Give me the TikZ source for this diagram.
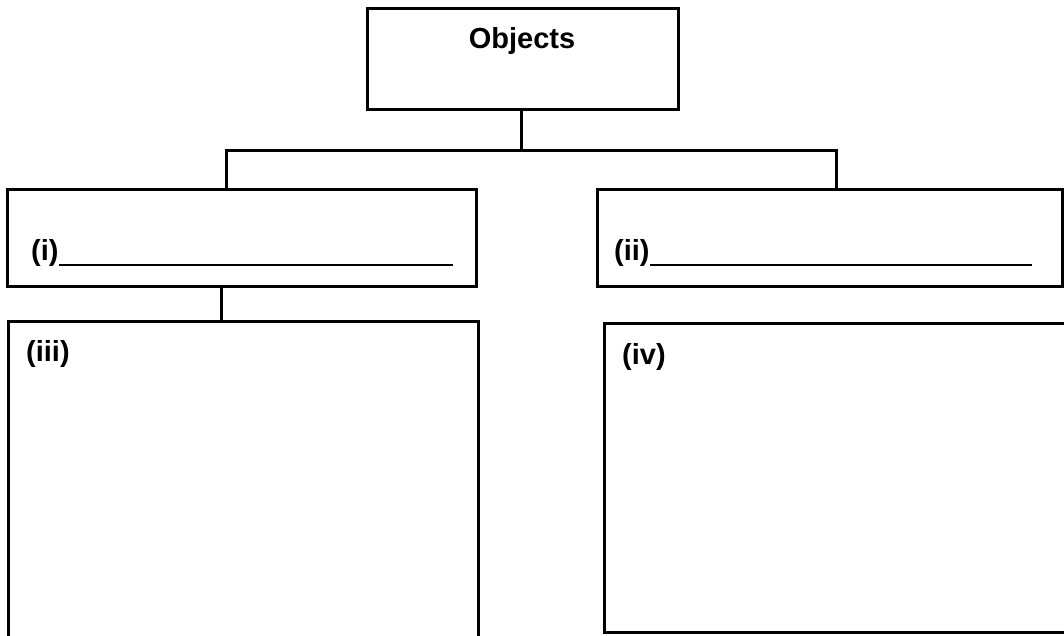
\documentclass[tikz,border=0pt]{standalone}
\usepackage{fontspec}
\setmainfont{Liberation Sans}
\begin{document}
\begin{tikzpicture}[x=1pt,y=-1pt,
  box/.style={draw=black, line width=3pt, rectangle, inner sep=0pt},
  lbl/.style={inner sep=0pt, font=\fontsize{29}{34}\selectfont\bfseries},
  conn/.style={draw=black, line width=3pt},
  blank/.style={draw=black, line width=2.6pt}]
\useasboundingbox[fill=white] (0,0) rectangle (1064,635);
% boxes
\node[box, minimum width=311pt, minimum height=101pt] (obj) at (522.5,58.5) {};
\node[box, minimum width=469pt, minimum height=97pt] (bi) at (241.5,237.5) {};
\node[box, minimum width=465pt, minimum height=97pt] (bii) at (829.5,237.5) {};
\node[box, minimum width=470pt, minimum height=330pt] (biii) at (243,486) {};
\node[box, minimum width=471pt, minimum height=309pt] (biv) at (839.5,477.5) {};
% labels
\node[lbl, anchor=base] (tobj) at (522,48) {Objects};
\node[lbl, anchor=base west] (ti) at (31,260) {(i)};
\node[lbl, anchor=base west] (tii) at (614,260) {(ii)};
\node[lbl, anchor=base west] (tiii) at (26,361) {(iii)};
\node[lbl, anchor=base west] (tiv) at (622,364) {(iv)};
% answer lines
\coordinate (ei) at (453,265);
\coordinate (eii) at (1032,265);
\draw[blank] (ti.east |- ei) -- (ei);
\draw[blank] (tii.east |- eii) -- (eii);
% connectors
\coordinate (hl) at (226,150);
\coordinate (hr) at (836,150);
\coordinate (vi) at (221,0);
\draw[conn] (obj.south -| 521,0) -- (hl -| 521,0);
\draw[conn] (bi.north -| hl) |- (hr) -- (bii.north -| hr);
\draw[conn] (bi.south -| vi) -- (biii.north -| vi);
\end{tikzpicture}
\end{document}
